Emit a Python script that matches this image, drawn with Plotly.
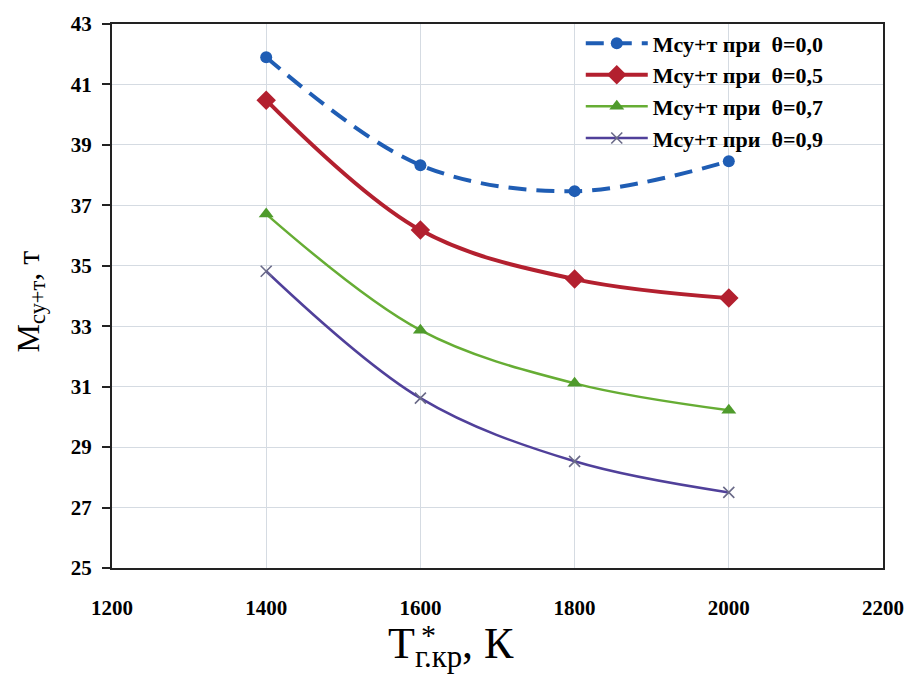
import plotly.graph_objects as go

temps = [1400, 1600, 1800, 2000]
m_theta_00 = [41.9, 38.33, 37.47, 38.46]
m_theta_05 = [40.48, 36.18, 34.56, 33.93]
m_theta_07 = [36.71, 32.87, 31.11, 30.22]
m_theta_09 = [34.82, 30.62, 28.53, 27.5]

labels = ["Мсу+т при  θ=0,0", "Мсу+т при  θ=0,5", "Мсу+т при  θ=0,7", "Мсу+т при  θ=0,9"]

serif = "Liberation Serif"

fig = go.Figure()

styles = [
    (m_theta_00, dict(color="#1f5db4", width=4, dash="18px,10px"),
     dict(symbol="circle", size=12, color="#1f5db4")),
    (m_theta_05, dict(color="#b3202f", width=4),
     dict(symbol="diamond", size=15, color="#b3202f")),
    (m_theta_07, dict(color="#66ad34", width=2.5),
     dict(symbol="triangle-up", size=13, color="#4f9b2c")),
    (m_theta_09, dict(color="#50409a", width=2.5),
     dict(symbol="x-thin", size=11, color="#6a6a88", line=dict(width=1.6, color="#6a6a88"))),
]

for (vals, line, marker), name in zip(styles, labels):
    fig.add_trace(go.Scatter(
        x=temps, y=vals, name=name, mode="lines+markers",
        line=dict(shape="spline", smoothing=1.0, **line),
        marker=marker,
    ))

fig.update_layout(
    width=916, height=675,
    margin=dict(l=112, r=29, t=23, b=107),
    plot_bgcolor="white", paper_bgcolor="white",
    font=dict(family=serif, color="black"),
    showlegend=True,
    legend=dict(
        x=0.608, y=1.003, xanchor="left", yanchor="top",
        bgcolor="rgba(255,255,255,0)", borderwidth=0,
        font=dict(family=serif, size=22, color="black", weight="bold"),
        itemwidth=62, tracegroupgap=0,
    ),
)

fig.update_xaxes(
    range=[1200, 2200], tick0=1200, dtick=200,
    showgrid=True, gridcolor="#d5dbe2", gridwidth=1.2,
    showline=True, linecolor="#222", linewidth=2, mirror=True,
    ticks="", ticklabelstandoff=20,
    tickfont=dict(family=serif, size=21, color="black", weight="bold"),
    zeroline=False,
)
fig.update_yaxes(
    range=[25, 43], tick0=25, dtick=2,
    showgrid=True, gridcolor="#d5dbe2", gridwidth=1.2,
    showline=True, linecolor="#222", linewidth=2, mirror=True,
    ticks="outside", ticklen=8, tickcolor="#222", tickwidth=1.5,
    ticklabelstandoff=6,
    tickfont=dict(family=serif, size=21, color="black", weight="bold"),
    zeroline=False,
)

# axis titles
fig.add_annotation(
    xref="paper", yref="paper", x=0, y=0.49, xshift=-82,
    text="М<sub>су+т</sub>, т", textangle=-90, showarrow=False,
    font=dict(family=serif, size=32, color="black"),
    xanchor="center", yanchor="middle",
)
fig.add_annotation(
    xref="paper", yref="paper", x=0.44, y=0, yshift=-78,
    text="T<sub>г.кр</sub>, К", showarrow=False,
    font=dict(family=serif, size=44, color="black"),
    xanchor="center", yanchor="middle",
)
fig.add_annotation(
    xref="paper", yref="paper", x=0.44, y=0, yshift=-66, xshift=-23,
    text="*", showarrow=False,
    font=dict(family=serif, size=30, color="black"),
    xanchor="center", yanchor="middle",
)

fig.write_html("out.html")
